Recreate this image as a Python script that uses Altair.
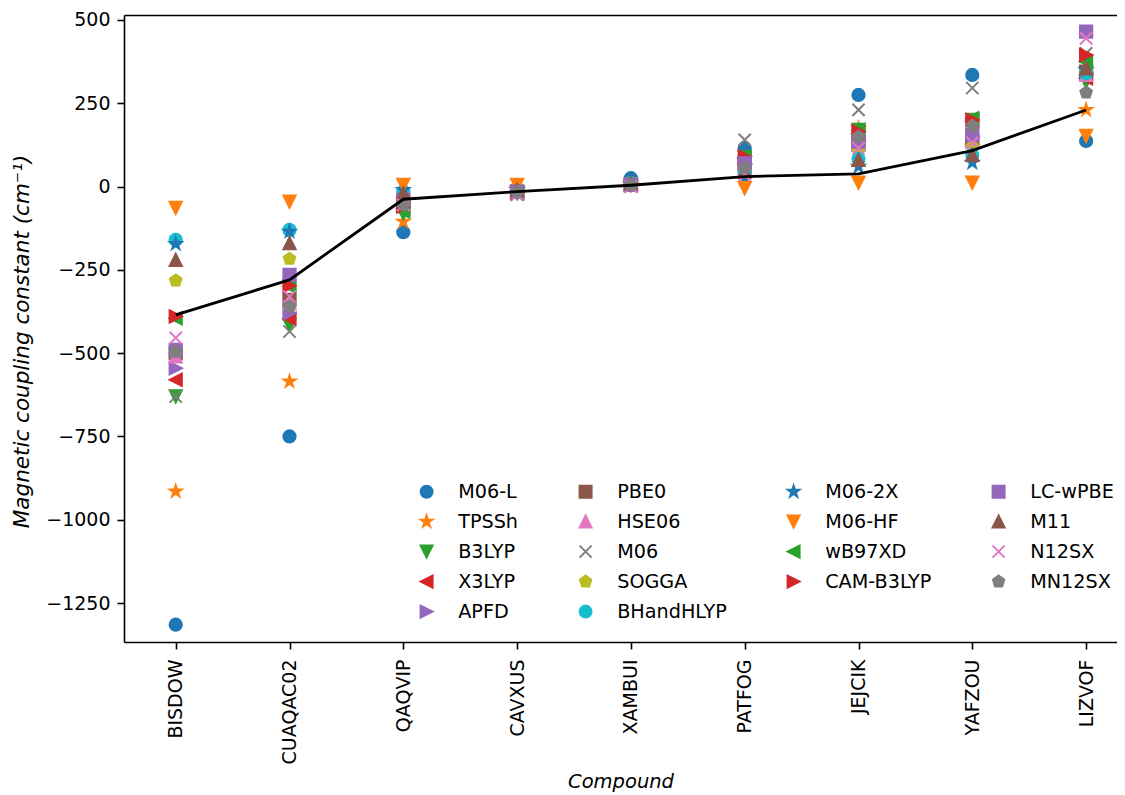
import math
import altair as alt
import pandas as pd

compounds = ["BISDOW", "CUAQAC02", "QAQVIP", "CAVXUS", "XAMBUI",
             "PATFOG", "JEJCIK", "YAFZOU", "LIZVOF"]

functionals = ["M06-L", "TPSSh", "B3LYP", "X3LYP", "APFD", "PBE0", "HSE06",
               "M06", "SOGGA", "BHandHLYP", "M06-2X", "M06-HF", "wB97XD",
               "CAM-B3LYP", "LC-wPBE", "M11", "N12SX", "MN12SX"]

m06l      = [-1315, -750, -137, -10, 25, 116, 275, 335, 137]
tpssh     = [-915, -585, -105, -5, 5, 60, 175, 120, 230]
b3lyp     = [-630, -415, -80, -20, 5, 88, 170, 200, 315]
x3lyp     = [-580, -397, -65, -20, 5, 85, 160, 195, 325]
apfd      = [-545, -380, -50, -15, 5, 70, 135, 150, 340]
pbe0      = [-500, -340, -45, -15, 5, 60, 130, 140, 345]
hse06     = [-510, -350, -50, -15, 5, 55, 125, 135, 335]
m06       = [-630, -435, -35, -20, 10, 140, 230, 296, 400]
sogga     = [-282, -217, -30, -10, 10, 45, 110, 120, 345]
bhandhlyp = [-160, -130, -15, -10, 10, 45, 83, 95, 340]
m062x     = [-172, -135, -10, -10, 10, 23, 60, 72, 350]
m06hf     = [-64, -45, 5, 5, 5, -5, 12, 12, 152]
wb97xd    = [-395, -300, -75, -20, 5, 88, 170, 205, 375]
camb3lyp  = [-390, -298, -60, -20, 5, 90, 165, 200, 395]
lcwpbe    = [-490, -265, -40, -15, 5, 70, 135, 155, 465]
m11       = [-220, -170, -20, -10, 10, 45, 80, 95, 355]
n12sx     = [-454, -330, -55, -25, 0, 35, 115, 132, 445]
mn12sx    = [-495, -360, -55, -15, 5, 56, 150, 182, 282]

experimental = [-385, -280, -38, -15, 4, 30, 38, 108, 230]

series = [m06l, tpssh, b3lyp, x3lyp, apfd, pbe0, hse06, m06, sogga,
          bhandhlyp, m062x, m06hf, wb97xd, camb3lyp, lcwpbe, m11, n12sx, mn12sx]

colors = ["#1f77b4", "#ff7f0e", "#2ca02c", "#d62728", "#9467bd", "#8c564b",
          "#e377c2", "#7f7f7f", "#bcbd22", "#17becf", "#1f77b4", "#ff7f0e",
          "#2ca02c", "#d62728", "#9467bd", "#8c564b", "#e377c2", "#7f7f7f"]
markers = ["o", "*", "v", "<", ">", "s", "^", "x", "p", "o",
           "*", "v", "<", ">", "s", "^", "x", "p"]


def poly(points):
    return "M" + "L".join(f"{x:.4f},{y:.4f}" for x, y in points) + "Z"


star_pts = []
for k in range(10):
    r = 1.0 if k % 2 == 0 else 0.381966
    a = math.radians(-90 + 36 * k)
    star_pts.append((r * math.cos(a), r * math.sin(a)))
pent_pts = [(math.cos(math.radians(-90 + 72 * k)), math.sin(math.radians(-90 + 72 * k)))
            for k in range(5)]

shape_paths = {
    "o": "circle",
    "*": poly(star_pts),
    "v": "M0,1L-1,-1L1,-1Z",
    "^": "M0,-1L-1,1L1,1Z",
    "<": "M-1,0L1,-1L1,1Z",
    ">": "M1,0L-1,-1L-1,1Z",
    "s": "M-1,-1L1,-1L1,1L-1,1Z",
    "x": "M-1,-1L1,1M1,-1L-1,1",
    "p": poly(pent_pts),
}

# the legend is filled row by row (4 per row); reorder so that its columns
# read M06-L..APFD | PBE0..BHandHLYP | M06-2X..CAM-B3LYP | LC-wPBE..MN12SX
col_sizes = [5, 5, 4, 4]
cols = []
start = 0
for s in col_sizes:
    cols.append(functionals[start:start + s])
    start += s
legend_order = []
for r in range(max(col_sizes)):
    for c in cols:
        if r < len(c):
            legend_order.append(c[r])

color_of = dict(zip(functionals, colors))
shape_of = dict(zip(functionals, [shape_paths[m] for m in markers]))

rows = []
for f, vals in zip(functionals, series):
    for c, v in zip(compounds, vals):
        rows.append({"Compound": c, "Functional": f, "J": v})
df = pd.DataFrame(rows)
exp_df = pd.DataFrame({"Compound": compounds, "J": experimental,
                       "idx": list(range(len(compounds)))})

FONT = "DejaVu Sans"
W, H = 993, 627

xscale = alt.Scale(type="point", domain=compounds, padding=0.363, align=0.626)
yscale = alt.Scale(domain=[-1367, 515], nice=False, zero=False)

leg = alt.Legend(title=None, orient="none", legendX=293, legendY=467,
                 direction="horizontal", columns=4, columnPadding=56, rowPadding=9,
                 symbolSize=144, symbolStrokeWidth=2, symbolOpacity=1,
                 labelFontSize=19.2, labelFont=FONT, labelColor="black",
                 labelOffset=22, padding=0)

points = alt.Chart(df).mark_point(filled=True, size=150, strokeWidth=2, opacity=1).encode(
    x=alt.X("Compound:N", scale=xscale,
            axis=alt.Axis(title="Compound", titleFont=FONT, titleFontStyle="italic",
                          titleFontSize=19.5, titleFontWeight="normal", titleColor="black",
                          titlePadding=9, labelAngle=-90, labelFontSize=19, labelFont=FONT,
                          labelColor="black", labelPadding=10, tickSize=7, tickColor="black",
                          tickWidth=1.6, domainColor="black", domainWidth=1.6, grid=False,
                          labelOverlap=False)),
    y=alt.Y("J:Q", scale=yscale,
            axis=alt.Axis(title="Magnetic coupling constant (cm\u207b\u00b9)",
                          values=[-1250, -1000, -750, -500, -250, 0, 250, 500], format="d",
                          titleFont=FONT, titleFontStyle="italic", titleFontSize=21.5,
                          titleFontWeight="normal", titleColor="black", titlePadding=12,
                          titleY=326,
                          labelFontSize=19, labelFont=FONT, labelColor="black",
                          labelPadding=7, tickSize=7, tickColor="black", tickWidth=1.6,
                          domainColor="black", domainWidth=1.6, grid=False,
                          labelOverlap=False, labelFlush=False)),
    color=alt.Color("Functional:N",
                    scale=alt.Scale(domain=legend_order, range=[color_of[f] for f in legend_order]),
                    legend=leg),
    shape=alt.Shape("Functional:N",
                    scale=alt.Scale(domain=legend_order, range=[shape_of[f] for f in legend_order]),
                    legend=leg),
    stroke=alt.Stroke("Functional:N",
                      scale=alt.Scale(domain=legend_order, range=[color_of[f] for f in legend_order]),
                      legend=leg),
)

line = alt.Chart(exp_df).mark_line(color="black", strokeWidth=2.8).encode(
    x=alt.X("Compound:N", scale=xscale,
            axis=alt.Axis(orient="top", labels=False, ticks=False, title=None,
                          domainColor="black", domainWidth=1.6, grid=False)),
    y=alt.Y("J:Q", scale=yscale, axis=None),
    order=alt.Order("idx:Q"),
)

chart = alt.layer(points, line).resolve_axis(x="independent", y="independent").properties(
    width=W, height=H,
    autosize=alt.AutoSizeParams(type="none"),
    padding={"left": 116, "top": 7, "right": 0, "bottom": 153},
).configure_view(stroke=None).configure(background="white")

chart.save("out.html", embed_options={"renderer": "svg", "actions": False})
